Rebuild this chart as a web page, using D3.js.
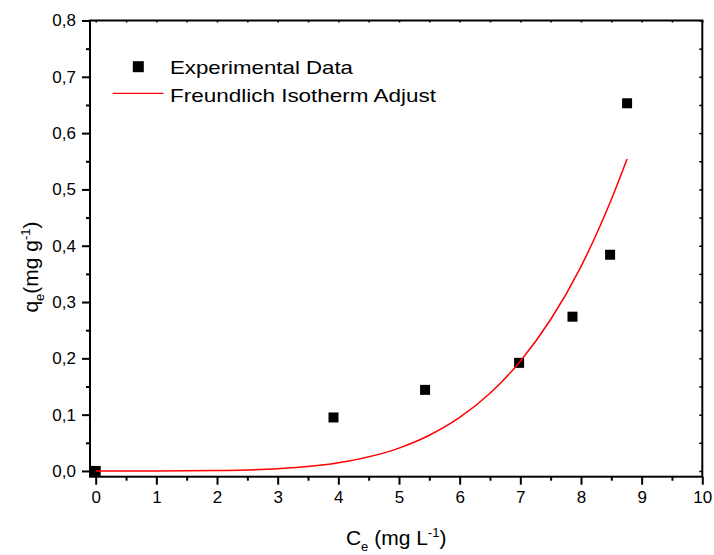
<!DOCTYPE html>
<html>
<head>
<meta charset="utf-8">
<script src="https://cdn.jsdelivr.net/npm/d3@7"></script>
<style>
  html, body { margin: 0; padding: 0; background: #fff; }
  svg { display: block; }
  text { font-family: "Liberation Sans", Arial, sans-serif; fill: #000; }
</style>
</head>
<body>
<svg id="chart" width="714" height="555"></svg>
<script>
// ---- data ----
const expCe = [0, 3.92, 5.43, 6.98, 7.86, 8.48, 8.76];
const expQe = [0, 0.095, 0.144, 0.192, 0.274, 0.384, 0.653];

const fitCe = [0, 1, 2, 3, 4, 5, 5.5, 6, 6.5, 7, 7.5, 8, 8.5, 8.76];
const fitQe = [0, 0.00002, 0.0006, 0.0038, 0.0144, 0.0406, 0.0634, 0.095, 0.138, 0.195, 0.269, 0.363, 0.482, 0.554];

const xTicks = [0, 1, 2, 3, 4, 5, 6, 7, 8, 9, 10];
const yTicks = [0, 0.1, 0.2, 0.3, 0.4, 0.5, 0.6, 0.7, 0.8];
const legendLabels = ["Experimental Data", "Freundlich Isotherm Adjust"];

// ---- layout ----
const svg = d3.select("#chart");
const pL = 90, pR = 702.3, pT = 20.5, pB = 476.7;

const x = d3.scaleLinear().domain([-0.094, 10]).range([pL, pR]);
const y = d3.scaleLinear().domain([-0.0102, 0.8]).range([pB, pT]);

const fmt = d => d3.format(".1f")(d).replace(".", ",");

// minor ticks
const xMinor = d3.range(0.5, 10, 1);
const yMinor = d3.range(0.05, 0.8, 0.1);

// bottom axis
const gx = svg.append("g").attr("transform", `translate(0,${pB})`)
  .call(d3.axisBottom(x).tickValues(xTicks).tickSize(8).tickPadding(6).tickFormat(d3.format("d")));
gx.select(".domain").remove();
gx.selectAll(".tick line").attr("stroke", "#000").attr("stroke-width", 2);
gx.selectAll(".tick text").style("font-size", "17px").attr("font-family", null);

const gxm = svg.append("g").attr("transform", `translate(0,${pB})`)
  .call(d3.axisBottom(x).tickValues(xMinor).tickSize(4).tickFormat(""));
gxm.select(".domain").remove();
gxm.selectAll(".tick line").attr("stroke", "#000").attr("stroke-width", 2);

// left axis
const gy = svg.append("g").attr("transform", `translate(${pL},0)`)
  .call(d3.axisLeft(y).tickValues(yTicks).tickSize(8).tickPadding(6).tickFormat(fmt));
gy.select(".domain").remove();
gy.selectAll(".tick line").attr("stroke", "#000").attr("stroke-width", 2);
gy.selectAll(".tick text").style("font-size", "17px").attr("font-family", null);

const gym = svg.append("g").attr("transform", `translate(${pL},0)`)
  .call(d3.axisLeft(y).tickValues(yMinor).tickSize(4).tickFormat(""));
gym.select(".domain").remove();
gym.selectAll(".tick line").attr("stroke", "#000").attr("stroke-width", 2);

// top axis (tiny inward ticks)
const gt = svg.append("g").attr("transform", `translate(0,${pT})`)
  .call(d3.axisTop(x).tickValues(d3.range(0, 10.01, 0.5)).tickSize(-2).tickFormat(""));
gt.select(".domain").remove();
gt.selectAll(".tick line").attr("stroke", "#000").attr("stroke-width", 1.5);

// right axis (tiny inward ticks)
const gr = svg.append("g").attr("transform", `translate(${pR},0)`)
  .call(d3.axisRight(y).tickValues(d3.range(0, 0.801, 0.05)).tickSize(-3).tickFormat(""));
gr.select(".domain").remove();
gr.selectAll(".tick line").attr("stroke", "#000").attr("stroke-width", 1.5);

// frame
svg.append("rect")
  .attr("x", pL).attr("y", pT)
  .attr("width", pR - pL).attr("height", pB - pT)
  .attr("fill", "none").attr("stroke", "#000").attr("stroke-width", 2);

// experimental points
const sq = 10;
svg.append("g").selectAll("rect")
  .data(expCe.map((c, i) => [c, expQe[i]]))
  .join("rect")
  .attr("x", d => x(d[0]) - sq / 2)
  .attr("y", d => y(d[1]) - sq / 2)
  .attr("width", sq).attr("height", sq)
  .attr("fill", "#000");

// fit curve
const line = d3.line()
  .x(d => x(d[0])).y(d => y(d[1]))
  .curve(d3.curveMonotoneX);
svg.append("path")
  .datum(fitCe.map((c, i) => [c, fitQe[i]]))
  .attr("d", line)
  .attr("fill", "none").attr("stroke", "#ff0000").attr("stroke-width", 1.5);

// legend
svg.append("rect").attr("x", 138.3 - 5.5).attr("y", 66.7 - 5.5)
  .attr("width", 11).attr("height", 11).attr("fill", "#000");
svg.append("line").attr("x1", 112.7).attr("x2", 163.3)
  .attr("y1", 93.3).attr("y2", 93.3)
  .attr("stroke", "#ff0000").attr("stroke-width", 1.2);
svg.append("text").attr("x", 170).attr("y", 73.5)
  .style("font-size", "18.5px").attr("textLength", 183).attr("lengthAdjust", "spacingAndGlyphs")
  .text(legendLabels[0]);
svg.append("text").attr("x", 170).attr("y", 101.5)
  .style("font-size", "18.5px").attr("textLength", 266).attr("lengthAdjust", "spacingAndGlyphs")
  .text(legendLabels[1]);

// x axis title
const xt = svg.append("text").attr("x", (pL + pR) / 2).attr("y", 545)
  .attr("text-anchor", "middle").style("font-size", "21px");
xt.append("tspan").text("C");
xt.append("tspan").attr("dy", 6).style("font-size", "13px").text("e");
xt.append("tspan").attr("dy", -6).text(" (mg L");
xt.append("tspan").attr("dy", -8).style("font-size", "13px").text("-1");
xt.append("tspan").attr("dy", 8).text(")");

// y axis title
const yt = svg.append("text")
  .attr("transform", `translate(38,267) rotate(-90)`)
  .attr("text-anchor", "middle").style("font-size", "21px");
yt.append("tspan").text("q");
yt.append("tspan").attr("dy", 6).style("font-size", "13px").text("e");
yt.append("tspan").attr("dy", -6).text("(mg g");
yt.append("tspan").attr("dy", -8).style("font-size", "13px").text("-1");
yt.append("tspan").attr("dy", 8).text(")");
</script>
</body>
</html>
